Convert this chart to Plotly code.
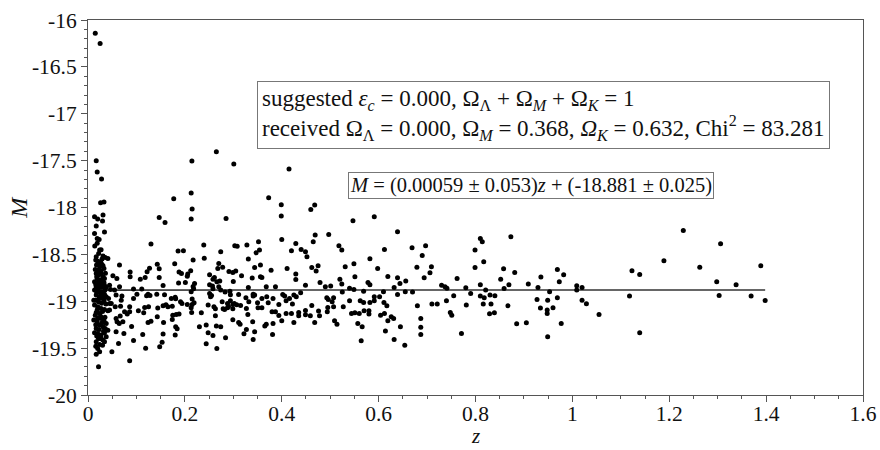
import plotly.graph_objects as go

# ---- data ----
z_cluster = [0.015, 0.025, 0.017, 0.019, 0.028, 0.026, 0.033, 0.0135, 0.020, 0.031, 0.030,
             0.017, 0.034, 0.0135, 0.019, 0.023, 0.024, 0.022, 0.031, 0.0355, 0.041,
             0.017, 0.020, 0.026, 0.0286, 0.0176, 0.024, 0.020, 0.027, 0.033, 0.065,
             0.017, 0.0217, 0.027, 0.031, 0.034, 0.019, 0.026, 0.0135, 0.024, 0.0286, 0.020,
             0.034, 0.017, 0.031, 0.0376, 0.0514, 0.0596, 0.0445, 0.0465, 0.0548, 0.0651,
             0.0135, 0.020, 0.027, 0.034, 0.017, 0.024, 0.031, 0.012, 0.0217, 0.033, 0.0376,
             0.0424, 0.0445, 0.048, 0.058, 0.070, 0.0686, 0.0135, 0.020, 0.027, 0.019, 0.034,
             0.041, 0.024, 0.015, 0.0445, 0.0562, 0.0672, 0.0755, 0.081, 0.012, 0.019, 0.027,
             0.033, 0.0376, 0.024, 0.031, 0.017, 0.0355, 0.041, 0.058, 0.060, 0.0645, 0.0665,
             0.072, 0.0135, 0.020, 0.027, 0.034, 0.0376, 0.0217, 0.031, 0.017, 0.034, 0.058,
             0.0741, 0.063, 0.020, 0.024, 0.017, 0.0493, 0.0217,
             0.016, 0.029, 0.022, 0.031, 0.015, 0.025, 0.036, 0.018, 0.029, 0.022, 0.033,
             0.016, 0.026, 0.021, 0.035, 0.028, 0.018, 0.031, 0.023, 0.016, 0.028, 0.037,
             0.021, 0.030, 0.017, 0.026, 0.035, 0.020, 0.029, 0.016, 0.023, 0.032, 0.018,
             0.027, 0.024, 0.016, 0.030, 0.014, 0.027, 0.019]
M_cluster = [-16.14, -16.25, -17.501, -17.622, -17.697, -17.949, -17.942, -18.099, -18.124,
             -18.081, -18.145, -18.198, -18.262, -18.276, -18.330, -18.340, -18.454, -18.490,
             -18.518, -18.532, -18.543, -18.525, -18.572, -18.579, -18.604, -18.614, -18.632,
             -18.668, -18.675, -18.650, -18.614, -18.703, -18.721, -18.710, -18.739, -18.757,
             -18.757, -18.774, -18.792, -18.803, -18.817, -18.828, -18.828, -18.845, -18.845,
             -18.853, -18.728, -18.757, -18.828, -18.874, -18.881, -18.845, -18.881, -18.899,
             -18.917, -18.924, -18.934, -18.952, -18.970, -18.988, -19.005, -18.995, -18.952,
             -18.970, -19.023, -19.023, -18.934, -18.945, -18.988, -19.041, -19.059, -19.077,
             -19.094, -19.087, -19.101, -19.130, -19.148, -19.094, -19.059, -19.052, -19.112,
             -19.137, -19.201, -19.219, -19.183, -19.208, -19.237, -19.254, -19.272, -19.290,
             -19.290, -19.308, -19.183, -19.219, -19.237, -19.158, -19.219, -19.336, -19.343,
             -19.361, -19.336, -19.379, -19.397, -19.414, -19.432, -19.432, -19.326, -19.343,
             -19.450, -19.503, -19.539, -19.564, -19.539, -19.699,
             -18.56, -18.55, -18.60, -18.62, -18.66, -18.69, -18.70, -18.74, -18.77, -18.79,
             -18.80, -18.82, -18.85, -18.86, -18.88, -18.90, -18.91, -18.94, -18.97, -18.99,
             -19.02, -19.03, -19.07, -19.11, -19.12, -19.16, -19.17, -19.18, -19.23, -19.25,
             -19.30, -19.32, -19.37, -19.40, -19.46, -19.48, -19.47, -18.41, -18.45, -18.38]

z_mid1 = [0.265, 0.2145, 0.301, 0.177, 0.213, 0.215, 0.213, 0.147, 0.159, 0.285, 0.130,
          0.239, 0.186, 0.197, 0.303, 0.308, 0.328, 0.274, 0.240, 0.217, 0.331, 0.179,
          0.143, 0.147, 0.127, 0.270, 0.278, 0.268, 0.122, 0.188, 0.193, 0.206, 0.212,
          0.205, 0.251, 0.291, 0.299, 0.305, 0.317, 0.087, 0.087, 0.118, 0.108, 0.147,
          0.261, 0.258, 0.266, 0.187, 0.201, 0.155, 0.220, 0.251, 0.272, 0.300, 0.339,
          0.094, 0.111, 0.217, 0.218, 0.257, 0.258, 0.331, 0.270, 0.274, 0.293, 0.283,
          0.101, 0.124, 0.121, 0.128, 0.142, 0.158, 0.213, 0.251, 0.253, 0.255, 0.215,
          0.294, 0.311, 0.341, 0.094, 0.172, 0.180, 0.181, 0.191, 0.194, 0.205, 0.215,
          0.219, 0.248, 0.260, 0.263, 0.277, 0.288, 0.290, 0.294, 0.299, 0.302, 0.307,
          0.315, 0.326, 0.332, 0.341, 0.086, 0.086, 0.104, 0.115, 0.117, 0.125, 0.144,
          0.155, 0.161, 0.165, 0.174, 0.213, 0.214, 0.234, 0.279, 0.282, 0.288, 0.299,
          0.327, 0.330, 0.263, 0.175, 0.182, 0.188, 0.143, 0.174, 0.124, 0.130, 0.156,
          0.299, 0.311, 0.314, 0.340, 0.090, 0.181, 0.184, 0.230, 0.244, 0.265, 0.274,
          0.327, 0.344, 0.113, 0.155, 0.180, 0.248, 0.258, 0.322, 0.284, 0.094, 0.153,
          0.341, 0.119, 0.148, 0.244, 0.266, 0.086]
M_mid1 = [-17.405, -17.505, -17.537, -17.907, -17.846, -18.017, -18.124, -18.106, -18.159,
          -18.116, -18.390, -18.401, -18.465, -18.461, -18.408, -18.412, -18.401, -18.472,
          -18.540, -18.561, -18.550, -18.600, -18.604, -18.653, -18.649, -18.597, -18.636,
          -18.650, -18.685, -18.689, -18.703, -18.710, -18.675, -18.732, -18.717, -18.682,
          -18.692, -18.678, -18.728, -18.689, -18.739, -18.746, -18.764, -18.746, -18.746,
          -18.764, -18.792, -18.806, -18.799, -18.831, -18.810, -18.824, -18.785, -18.789,
          -18.753, -18.870, -18.870, -18.842, -18.867, -18.838, -18.867, -18.853, -18.845,
          -18.881, -18.892, -18.902, -18.924, -18.924, -18.941, -18.938, -18.924, -18.931,
          -18.899, -18.917, -18.952, -18.938, -18.977, -18.931, -18.927, -18.924, -18.970,
          -18.970, -18.956, -18.973, -19.005, -19.023, -19.034, -19.034, -19.016, -19.041,
          -19.059, -19.080, -19.005, -19.023, -19.055, -18.995, -19.034, -19.023, -19.037,
          -19.045, -18.963, -19.005, -18.945, -19.059, -19.112, -19.101, -19.123, -19.066,
          -19.059, -19.073, -19.048, -19.037, -19.059, -19.052, -19.069, -19.119, -19.123,
          -19.080, -19.087, -19.069, -19.080, -19.077, -19.141, -19.155, -19.148, -19.141,
          -19.137, -19.165, -19.194, -19.226, -19.212, -19.226, -19.197, -19.226, -19.244,
          -19.219, -19.269, -19.272, -19.293, -19.272, -19.254, -19.265, -19.272, -19.301,
          -19.326, -19.354, -19.350, -19.361, -19.336, -19.365, -19.347, -19.390, -19.418,
          -19.436, -19.407, -19.500, -19.486, -19.454, -19.503, -19.635]

z_mid2 = [0.415, 0.373, 0.399, 0.399, 0.468, 0.460, 0.547, 0.591, 0.400, 0.469, 0.465,
          0.497, 0.352, 0.347, 0.354, 0.344, 0.356, 0.356, 0.359, 0.378, 0.368, 0.387,
          0.420, 0.429, 0.440, 0.449, 0.452, 0.411, 0.429, 0.429, 0.462, 0.471, 0.475,
          0.449, 0.479, 0.490, 0.501, 0.518, 0.524, 0.531, 0.549, 0.551, 0.520, 0.524,
          0.540, 0.549, 0.525, 0.578, 0.582, 0.582, 0.598, 0.344, 0.350, 0.351, 0.359,
          0.369, 0.372, 0.382, 0.359, 0.380, 0.387, 0.394, 0.394, 0.400, 0.402, 0.406,
          0.409, 0.409, 0.416, 0.420, 0.422, 0.425, 0.430, 0.425, 0.435, 0.435, 0.439,
          0.449, 0.449, 0.459, 0.462, 0.468, 0.476, 0.478, 0.365, 0.368, 0.382, 0.381,
          0.493, 0.496, 0.507, 0.504, 0.495, 0.507, 0.494, 0.509, 0.514, 0.527, 0.540,
          0.544, 0.551, 0.557, 0.566, 0.560, 0.562, 0.569, 0.570, 0.580, 0.580, 0.582,
          0.591, 0.591, 0.564, 0.569]
M_mid2 = [-17.590, -17.896, -17.971, -18.092, -17.974, -18.021, -18.141, -18.099, -18.340,
          -18.294, -18.365, -18.287, -18.365, -18.483, -18.454, -18.639, -18.614, -18.739,
          -18.746, -18.668, -18.845, -18.845, -18.461, -18.383, -18.447, -18.472, -18.525,
          -18.650, -18.710, -18.767, -18.639, -18.678, -18.621, -18.828, -18.799, -18.845,
          -18.838, -18.408, -18.454, -18.632, -18.600, -18.739, -18.764, -18.817, -18.860,
          -18.874, -18.902, -18.799, -18.824, -18.547, -18.650, -18.934, -19.016, -19.069,
          -18.970, -18.952, -19.016, -18.970, -19.069, -19.112, -19.112, -19.034, -19.151,
          -19.208, -18.927, -18.945, -18.995, -19.130, -18.970, -19.130, -19.030, -18.934,
          -18.952, -19.226, -19.119, -19.155, -18.909, -19.098, -19.144, -19.155, -19.045,
          -19.226, -19.105, -19.155, -19.265, -19.244, -19.237, -19.354, -18.963, -18.981,
          -18.963, -19.005, -19.066, -19.059, -19.112, -19.208, -19.244, -19.059, -18.995,
          -19.130, -19.123, -19.237, -19.272, -19.130, -18.995, -19.013, -19.101, -19.101,
          -19.137, -19.013, -18.995, -18.952, -19.421, -18.892]

z_mid3 = [0.639, 0.612, 0.669, 0.697, 0.690, 0.679, 0.709, 0.706, 0.694, 0.619, 0.639,
          0.644, 0.656, 0.632, 0.610, 0.639, 0.655, 0.670, 0.602, 0.611, 0.617, 0.604,
          0.612, 0.619, 0.626, 0.631, 0.614, 0.645, 0.632, 0.654, 0.680, 0.687, 0.687,
          0.687, 0.710, 0.721, 0.730, 0.737, 0.741, 0.740, 0.748, 0.751, 0.755, 0.762,
          0.771, 0.780, 0.781, 0.790, 0.799, 0.799, 0.810, 0.814, 0.817, 0.810, 0.810,
          0.818, 0.821, 0.816, 0.830, 0.832, 0.829, 0.839, 0.840, 0.852, 0.858, 0.859]
M_mid3 = [-18.259, -18.447, -18.429, -18.408, -18.511, -18.636, -18.632, -18.696, -18.749,
          -18.735, -18.749, -18.810, -18.785, -18.853, -18.899, -18.927, -18.899, -18.902,
          -18.952, -19.013, -19.048, -19.148, -19.130, -19.208, -19.165, -19.183, -19.318,
          -19.272, -19.407, -19.468, -19.048, -19.183, -19.276, -19.354, -19.030, -19.030,
          -18.828, -18.845, -18.860, -18.995, -19.119, -19.148, -18.941, -18.757, -19.343,
          -18.856, -19.041, -18.917, -18.454, -18.639, -18.330, -18.365, -18.579, -18.824,
          -18.945, -18.963, -18.881, -19.030, -18.934, -19.030, -19.133, -19.123, -18.941,
          -18.764, -18.653, -18.863]

z_high = [0.873, 0.881, 0.869, 0.867, 0.885, 0.905, 0.909, 0.929, 0.935, 0.927, 0.934,
          0.949, 0.948, 0.948, 0.953, 0.960, 0.969, 0.973, 0.982, 0.969, 0.977, 0.949,
          1.009, 1.009, 1.020, 1.020, 1.029, 1.055, 1.123, 1.118,
          1.139, 1.139, 1.189, 1.229, 1.263, 1.298, 1.303, 1.306, 1.338, 1.369, 1.389, 1.398]
M_high = [-18.312, -18.693, -18.824, -19.048, -19.240, -19.229, -18.817, -18.853, -18.742,
          -18.981, -19.073, -18.988, -19.094, -19.130, -18.899, -19.069, -18.661, -18.792,
          -18.717, -18.963, -19.237, -19.379, -18.835, -18.881, -18.853, -18.988, -19.027,
          -19.141, -18.675, -18.945,
          -18.714, -19.336, -18.568, -18.244, -18.636, -18.792, -18.938, -18.387, -18.824,
          -18.945, -18.622, -18.991]

fit_slope = 0.00059
fit_intercept = -18.881

x_ticks = [0, 0.2, 0.4, 0.6, 0.8, 1.0, 1.2, 1.4, 1.6]
x_labels = ["0", "0.2", "0.4", "0.6", "0.8", "1", "1.2", "1.4", "1.6"]
y_ticks = [-20, -19.5, -19, -18.5, -18, -17.5, -17, -16.5, -16]
y_labels = ["-20", "-19.5", "-19", "-18.5", "-18", "-17.5", "-17", "-16.5", "-16"]

z_all = z_cluster + z_mid1 + z_mid2 + z_mid3 + z_high
M_all = M_cluster + M_mid1 + M_mid2 + M_mid3 + M_high

line_z = [0.017, max(z_all)]
line_M = [fit_intercept + fit_slope * v for v in line_z]

FONT = "'Liberation Serif', 'Times New Roman', serif"

fig = go.Figure()
fig.add_trace(go.Scatter(x=line_z, y=line_M, mode="lines",
                         line=dict(color="#333333", width=1.6), hoverinfo="skip"))
fig.add_trace(go.Scatter(x=z_all, y=M_all, mode="markers",
                         marker=dict(color="black", size=5, line=dict(width=0))))

axis_common = dict(showgrid=False, zeroline=False, showline=True, linecolor="#555555",
                   linewidth=1, mirror=True, ticks="outside", tickcolor="#555555",
                   ticklen=6, tickwidth=1, automargin=False,
                   tickfont=dict(family=FONT, size=21.5, color="#111111"))

fig.update_xaxes(range=[0, 1.6], tickvals=x_ticks, ticktext=x_labels,
                 minor=dict(dtick=0.05, ticks="outside", ticklen=3, tickcolor="#555555"),
                 ticklabelstandoff=-7,
                 **axis_common)
fig.update_yaxes(range=[-20, -16], tickvals=y_ticks, ticktext=y_labels,
                 minor=dict(dtick=0.1, ticks="outside", ticklen=3, tickcolor="#555555"),
                 **axis_common)

# axis titles
fig.add_annotation(x=0.5, y=-0.11, xref="paper", yref="paper", xanchor="center",
                   yanchor="middle", text="<i>z</i>", showarrow=False,
                   font=dict(family=FONT, size=21, color="#111111"))
fig.add_annotation(x=-0.09, y=0.5, xref="paper", yref="paper", xanchor="center",
                   yanchor="middle", text="<i>M</i>", showarrow=False, textangle=-90,
                   font=dict(family=FONT, size=24, color="#111111"))

box1 = ("suggested <i>ε<sub>c</sub></i> = 0.000, Ω<sub>Λ</sub> + Ω<sub><i>M</i></sub> + "
        "Ω<sub><i>K</i></sub> = 1<br>"
        "received Ω<sub>Λ</sub> = 0.000, Ω<sub><i>M</i></sub> = 0.368, "
        "<i>Ω<sub>K</sub></i> = 0.632, Chi<sup>2</sup> = 83.281")
box2 = "<i>M</i> = (0.00059 ± 0.053)<i>z</i> + (-18.881 ± 0.025)"

fig.add_annotation(x=0.348, y=-16.655, xref="x", yref="y", xanchor="left", yanchor="top",
                   text=box1, showarrow=False, align="left",
                   font=dict(family=FONT, size=23, color="#111111"),
                   bgcolor="white", bordercolor="#777777", borderwidth=1, borderpad=4)
fig.add_annotation(x=0.536, y=-17.62, xref="x", yref="y", xanchor="left", yanchor="top",
                   text=box2, showarrow=False, align="left",
                   font=dict(family=FONT, size=20.5, color="#111111"),
                   bgcolor="white", bordercolor="#777777", borderwidth=1, borderpad=1)

fig.update_layout(width=880, height=450, autosize=False,
                  margin=dict(l=88, r=17, t=20, b=55),
                  paper_bgcolor="white", plot_bgcolor="white", showlegend=False)

fig.write_html("out.html")
